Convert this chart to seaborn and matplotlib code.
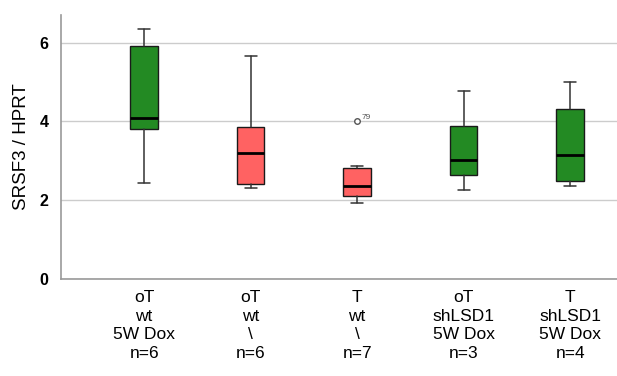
import matplotlib
matplotlib.use("Agg")
import matplotlib.pyplot as plt
import seaborn as sns

# values (SPSS style box plot)
groups = ["oT\nwt\n5W Dox\nn=6", "oT\nwt\n\\\nn=6", "T\nwt\n\\\nn=7",
          "oT\nshLSD1\n5W Dox\nn=3", "T\nshLSD1\n5W Dox\nn=4"]
whis_low = [2.44, 2.32, 1.92, 2.26, 2.35]
q1 = [3.81, 2.42, 2.10, 2.64, 2.50]
median = [4.09, 3.19, 2.36, 3.01, 3.16]
q3 = [5.92, 3.86, 2.81, 3.88, 4.32]
whis_high = [6.34, 5.66, 2.86, 4.76, 5.00]
outliers = [[], [], [4.00], [], []]
outlier_ids = [[], [], ["79"], [], []]
colors = ["#238a23", "#ff6262", "#ff6262", "#238a23", "#238a23"]

sns.set_style("whitegrid")
plt.rcParams["font.family"] = ["Liberation Sans", "DejaVu Sans"]
plt.rcParams["text.color"] = "black"
plt.rcParams["xtick.color"] = "black"
plt.rcParams["ytick.color"] = "black"
plt.rcParams["axes.labelcolor"] = "black"

fig = plt.figure(figsize=(6.17, 3.76), dpi=100)
ax = fig.add_axes([0.099, 0.258, 0.901, 0.702])

stats = []
for i in range(len(groups)):
    stats.append({"med": median[i], "q1": q1[i], "q3": q3[i],
                  "whislo": whis_low[i], "whishi": whis_high[i],
                  "fliers": outliers[i]})

bp = ax.bxp(stats, positions=range(len(groups)), widths=0.26, patch_artist=True,
            boxprops=dict(edgecolor="#1a1a1a", linewidth=1.0),
            medianprops=dict(color="black", linewidth=2.0),
            whiskerprops=dict(color="#333333", linewidth=1.1),
            capprops=dict(color="#333333", linewidth=1.1),
            capwidths=0.11,
            flierprops=dict(marker="o", markersize=4, markerfacecolor="white",
                            markeredgecolor="#555555", markeredgewidth=1.0))
for patch, c in zip(bp["boxes"], colors):
    patch.set_facecolor(c)

for i, (vals, ids) in enumerate(zip(outliers, outlier_ids)):
    for v, lab in zip(vals, ids):
        ax.annotate(lab, (i, v), xytext=(3, 2), textcoords="offset points",
                    fontsize=6, color="#555555")

ax.set_xlim(-0.78, 4.44)
ax.set_ylim(0, 6.7)
ax.set_yticks([0, 2, 4, 6])
ax.set_yticklabels(["0", "2", "4", "6"], fontweight="bold", fontsize=11.5)
ax.set_xticks(range(len(groups)))
ax.set_xticklabels(groups, fontsize=12.5, linespacing=1.3)
ax.set_ylabel("SRSF3 / HPRT", fontsize=13.5, labelpad=7)

ax.grid(axis="x", visible=False)
ax.grid(axis="y", color="#cccccc", linewidth=1.0)
for side in ["top", "right"]:
    ax.spines[side].set_visible(False)
for side in ["left", "bottom"]:
    ax.spines[side].set_color("#999999")
    ax.spines[side].set_linewidth(1.2)
ax.tick_params(axis="both", length=0)
ax.tick_params(axis="x", pad=8)
ax.tick_params(axis="y", pad=9)

fig.savefig("out.png", dpi=100)
